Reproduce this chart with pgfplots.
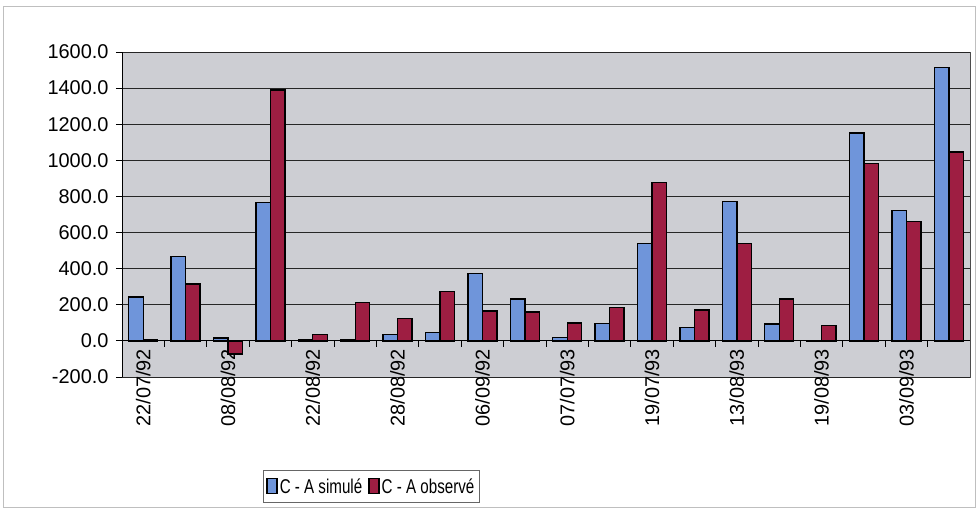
\documentclass[border=0pt]{standalone}
\usepackage{fontspec}
\setmainfont{Liberation Sans}
\usepackage{pgfplots}
\usepackage{pgfplotstable}
\pgfplotsset{compat=1.18}
\definecolor{plotbg}{HTML}{CDCED3}
\definecolor{simblue}{HTML}{6F95DA}
\definecolor{obsred}{HTML}{9E1E42}
\pgfplotstableread{
x sim obs
1 242 5
2 468 316
3 15 -72
4 765 1389
5 5 35
6 8 211
7 35 123
8 48 275
9 372 165
10 231 160
11 20 100
12 95 185
13 541 877
14 75 171
15 772 541
16 94 231
17 3 85
18 1152 983
19 721 660
20 1513 1046
}\datatable
\begin{document}
\begin{tikzpicture}
\path (-122bp,-133bp) rectangle (857bp,377bp);
\draw[black!25, line width=1pt] (-119bp,-130bp) rectangle (853bp,370bp);
\begin{axis}[
  at={(0,0)}, anchor=south west,
  scale only axis, width=848bp, height=325bp,
  axis x line=middle, axis y line=left,
  axis line style={-, black, line width=0.8pt},
  axis background/.style={fill=plotbg, draw=black!70, line width=0.8pt},
  ybar=0pt, bar width=0.34,
  xmin=0.5, xmax=20.5, ymin=-200, ymax=1600,
  ytick distance=200,
  xtick={1,3,5,7,9,11,13,15,17,19},
  xticklabels={22/07/92,08/08/92,22/08/92,28/08/92,06/09/92,07/07/93,19/07/93,13/08/93,19/08/93,03/09/93},
  minor xtick={1.5,2.5,...,19.5},
  major x tick style={draw=none},
  minor x tick style={black, line width=0.8pt},
  xtick align=outside, ytick align=outside,
  minor tick length=6bp, major tick length=6bp,
  ytick style={black, line width=0.8pt},
  ymajorgrids, major grid style={black!85, line width=0.8pt},
  tick label style={font=\fontsize{20}{24}\selectfont},
  x tick label style={rotate=90, anchor=east, inner sep=2bp},
  yticklabel style={xshift=-4bp},
  /pgf/number format/fixed,
  /pgf/number format/fixed zerofill,
  /pgf/number format/precision=1,
  /pgf/number format/1000 sep={},
  /pgf/number format/assume math mode=true,
  legend style={at={(0.294,-0.337)}, anchor=center, legend columns=2, draw=black!60, line width=0.8pt, fill=white, font=\fontsize{20}{24}\selectfont\addfontfeatures{FakeStretch=0.76}, /tikz/every even column/.append style={column sep=4bp}, inner xsep=3bp, inner ysep=6bp},
  legend image code/.code={\draw[#1, draw=black, line width=1.5pt] (0bp,-7bp) rectangle (10bp,8bp);},
]
\addplot[draw=black, line width=1.4pt, fill=simblue] table[x=x, y=sim] {\datatable};
\addplot[draw=black, line width=1.4pt, fill=obsred] table[x=x, y=obs] {\datatable};
\legend{C - A simulé, C - A observé}
\end{axis}
\end{tikzpicture}
\end{document}
